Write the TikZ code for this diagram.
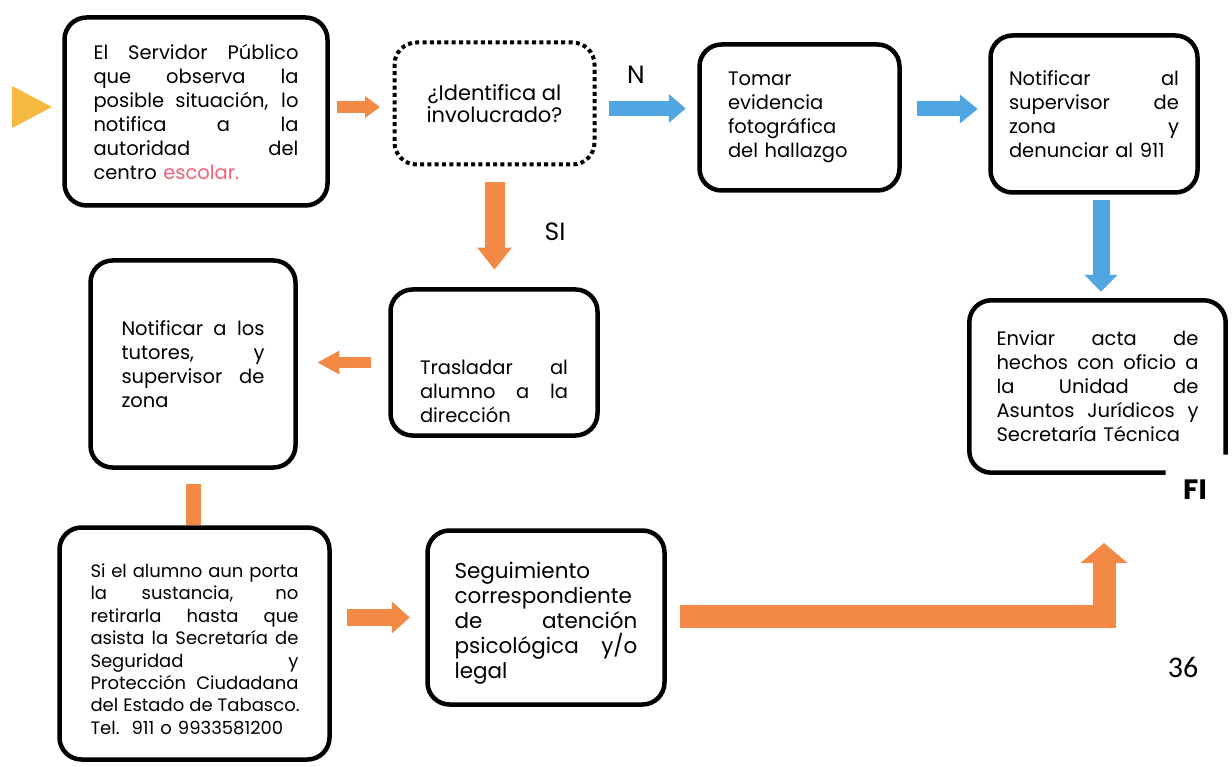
\documentclass[tikz,border=0pt]{standalone}
\usepackage{fontspec}
\setmainfont{Poppins}
\newfontfamily\paginafont{Carlito}
\usetikzlibrary{arrows.meta,positioning}

\definecolor{naranja}{HTML}{F28A45}
\definecolor{azul}{HTML}{4FA6E2}
\definecolor{amarillo}{HTML}{F5B840}
\definecolor{rosa}{HTML}{F2607A}
\setlength{\parindent}{0pt}

% linea justificada
\newcommand{\lin}[1]{\leavevmode\hbox to\linewidth{\spaceskip=0.28em plus 1fil\relax #1}}

\tikzset{
  caja/.style={draw, line width=4.5pt, rounded corners=22pt, inner sep=0pt, align=left,
    font=\fontsize{19.5}{24}\selectfont},
  pregunta/.style={draw, line width=4pt, dash pattern=on 4pt off 3.3pt, rounded corners=22pt,
    inner sep=0pt, align=center, font=\fontsize{21}{22}\selectfont},
  flecha naranja/.style={draw=naranja, line width=#1, line cap=butt},
  flecha azul/.style={draw=azul, line width=15pt, line cap=butt},
  etiqueta/.style={font=\fontsize{25}{26}\selectfont}
}

\begin{document}
\begin{tikzpicture}[x=1pt, y=-1pt]
    \useasboundingbox (0,0) rectangle (1232,767);

    % inicio
    \fill[amarillo] (12,86) -- (52,107) -- (12,128) -- cycle;

    % las cajas
    \node[caja, minimum width=263pt, minimum height=188pt, text width=205pt] (serv) at (196,111.5)
      {\lin{El Servidor Público}\\ \lin{que observa la}\\ \lin{posible situación, lo}\\
       \lin{notifica a la}\\ \lin{autoridad del}\\ centro \textcolor{rosa}{escolar.}};
    \node[pregunta, minimum width=200pt, minimum height=122pt] (ident) at (494.5,103.5)
      {¿Identifica al\\involucrado?};
    \node[caja, minimum width=200pt, minimum height=146pt, text width=143pt] (foto) at (799.5,117.5)
      {Tomar\\ evidencia\\ fotográfica\\ del hallazgo};
    \node[caja, minimum width=207pt, minimum height=157pt, text width=170pt] (superv) at (1094,114)
      {\lin{Notificar al}\\ \lin{supervisor de}\\ \lin{zona y}\\ denunciar al 911};
    \node[minimum width=256pt, minimum height=172pt, text width=202pt, inner sep=0pt, align=left,
      font=\fontsize{19.5}{24}\selectfont] (acta) at (1097.5,386.5)
      {\lin{Enviar acta de}\\ \lin{hechos con oficio a}\\ \lin{la Unidad de}\\
       \lin{Asuntos Jurídicos y}\\ Secretaría Técnica};
    \draw[line width=4.5pt, rounded corners=22pt] ([xshift=-60pt]acta.south east) -- (acta.south west)
      -- (acta.north west) -- (acta.north east) -- ([yshift=18pt]acta.south east);
    \node[caja, minimum width=207pt, minimum height=146pt, text width=148pt] (trasl) at (494,362.5)
      {\mbox{}\\[48pt] \lin{Trasladar al}\\ \lin{alumno a la}\\ dirección};
    \node[caja, minimum width=205pt, minimum height=207pt, text width=143pt] (tutor) at (193,364)
      {\lin{Notificar a los}\\ \lin{tutores, y}\\ \lin{supervisor de}\\ zona};
    \node[caja, minimum width=270pt, minimum height=232pt, text width=208pt,
      font=\fontsize{18}{22.4}\selectfont] (porta) at (194.5,643.5)
      {\mbox{}\\[2.6pt] \lin{Si el alumno aun porta}\\ \lin{la sustancia, no}\\ \lin{retirarla hasta que}\\
       \lin{asista la Secretaría de}\\ \lin{Seguridad y}\\ \lin{Protección Ciudadana}\\
       \lin{del Estado de Tabasco.}\\ Tel.\ \ 911 o 9933581200};
    \node[caja, minimum width=237pt, minimum height=174pt, text width=183pt,
      font=\fontsize{21.5}{25}\selectfont] (segui) at (546,617.5)
      {\mbox{}\\[3pt] Seguimiento\\ correspondiente\\ \lin{de atención}\\ \lin{psicológica y/o}\\ legal};

    \coordinate (fin) at (1104,543);

    % las flechas
    \draw[flecha naranja=12pt, -{Triangle[length=15pt,width=21pt]}, shorten <=7.5pt, shorten >=12.5pt]
      ([yshift=-3.5pt]ident.west -| serv.east) -- ([yshift=-3.5pt]ident.west);
    \draw[flecha azul, -{Triangle[length=17pt,width=28pt]}, shorten <=12.5pt, shorten >=11.5pt]
      ([yshift=-5pt]ident.east) -- ([yshift=-5pt]ident.east -| foto.west);
    \draw[flecha azul, -{Triangle[length=18pt,width=28pt]}, shorten <=15.5pt, shorten >=10.5pt]
      ([yshift=8.5pt]foto.east) -- ([yshift=8.5pt]foto.east -| superv.west);
    \draw[flecha azul, line width=17pt, -{Triangle[length=17pt,width=32pt]}, shorten <=5.5pt, shorten >=8.5pt]
      ([xshift=7pt]superv.south) -- ([xshift=7pt]superv.south |- acta.north);
    \draw[flecha naranja=20pt, -{Triangle[length=22pt,width=33pt]}, shorten <=15.5pt, shorten >=17.5pt]
      (ident.south) -- (ident.south |- trasl.north);
    \draw[flecha naranja=11pt, -{Triangle[length=22pt,width=22pt]}, shorten <=17.5pt, shorten >=19.5pt]
      (trasl.west) -- (trasl.west -| tutor.east);
    \draw[flecha naranja=15pt, shorten <=14.5pt]
      (tutor.south) -- (tutor.south |- porta.north);
    \draw[flecha naranja=17pt, -{Triangle[length=18pt,width=31pt]}, shorten <=15.5pt, shorten >=15.5pt]
      (segui.west -| porta.east) -- (segui.west);
    \draw[flecha naranja=23pt, line join=miter, -{Triangle[length=20pt,width=46pt]}, shorten <=13.5pt]
      ([yshift=1pt]segui.east) -| (fin);

    % textos sueltos
    \node[etiqueta] (no) at (636,75) {N};
    \node[etiqueta] (si) at (555,232) {SI};
    \node[font=\fontsize{28}{30}\selectfont\bfseries] (fi) at (1195,490) {FI};
    \node[font=\fontsize{30}{32}\selectfont\paginafont] (pag) at (1183,667) {36};
\end{tikzpicture}
\end{document}
